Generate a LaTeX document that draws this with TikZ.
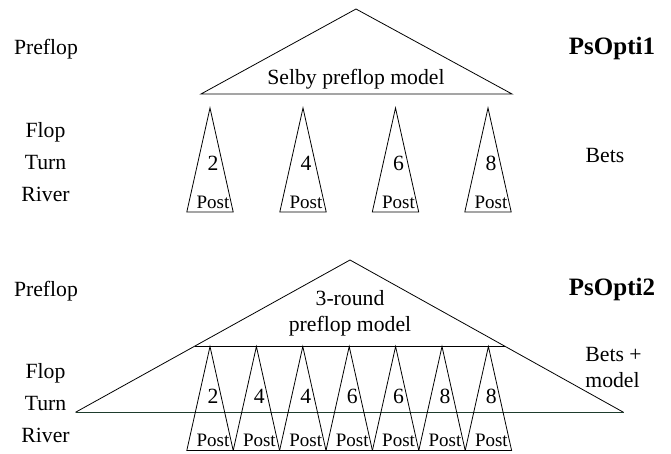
\documentclass[tikz,border=0pt]{standalone}
\usepackage{fontspec}
\setmainfont{Liberation Serif}
\definecolor{baseline}{RGB}{30,60,45}
\begin{document}
\begin{tikzpicture}[x=1pt,y=-1pt, line width=0.8pt, line join=miter,
  lbl/.style={font=\fontsize{21.7}{26}\selectfont, inner sep=0pt, anchor=base},
  postlbl/.style={font=\fontsize{19}{22}\selectfont, inner sep=0pt, anchor=base},
  ttl/.style={font=\fontsize{25}{30}\selectfont\bfseries, inner sep=0pt, anchor=base},
  tri/.style={draw=black}]
\useasboundingbox (0,0) rectangle (671,454);

% ---------- PsOpti1 ----------
\node[lbl] (pre1) at (46,55) {Preflop};
\node[ttl] (ps1) at (612,55) {PsOpti1};
\node[lbl] (flop1) at (45.5,137.5) {Flop};
\node[lbl] (turn1) at (45.5,169.5) {Turn};
\node[lbl] (river1) at (45.5,201.5) {River};
\node[lbl] (bets1) at (605,163) {Bets};

\coordinate (top1) at (356,9);
\draw[tri] (top1) -- (201,94) -- (512,94) -- cycle;
\node[lbl] (selby) at (356,85) {Selby preflop model};

\foreach \x/\n [count=\i] in {210/2,303/4,395.5/6,488/8}{
  \coordinate (a\i) at (\x,108);
  \draw[tri] (a\i) -- ++(-23.2,104) -- ++(46.4,0) -- cycle;
  \node[lbl] (n\i) at (\x+3,170.5) {\n};
  \node[postlbl] (p\i) at (\x+3,208.5) {Post};
}

% ---------- PsOpti2 ----------
\node[lbl] (pre2) at (46,296.5) {Preflop};
\node[ttl] (ps2) at (612,295.5) {PsOpti2};
\node[lbl] (flop2) at (45.5,378.5) {Flop};
\node[lbl] (turn2) at (45.5,410.5) {Turn};
\node[lbl] (river2) at (45.5,442.5) {River};
\node[lbl, anchor=base west] (bets2) at (585,361.5) {Bets +};
\node[lbl, anchor=base west] (model2) at (585,387.5) {model};

\coordinate (top2) at (350,260);
\coordinate (bl) at (75.5,412.3);
\coordinate (br) at (623.5,412.3);
\draw[tri] (bl) -- (top2) -- (br);
\draw[draw=baseline] (bl) -- (br);
\coordinate (il) at (194.5,346.5);
\coordinate (ir) at (505,346.5);
\draw[tri] (il) -- (ir);
\node[lbl] (r3) at (350,305) {3-round};
\node[lbl] (pm) at (350,331.5) {preflop model};

\foreach \n [count=\i] in {2,4,4,6,6,8,8}{
  \coordinate (b\i) at ({210+46.4*(\i-1)},346.5);
  \draw[tri] (b\i) -- ++(-23.2,104) -- ++(46.4,0) -- cycle;
  \node[lbl] (m\i) at ({213+46.4*(\i-1)},403) {\n};
  \node[postlbl] (q\i) at ({213+46.4*(\i-1)},446.7) {Post};
}
\end{tikzpicture}
\end{document}
